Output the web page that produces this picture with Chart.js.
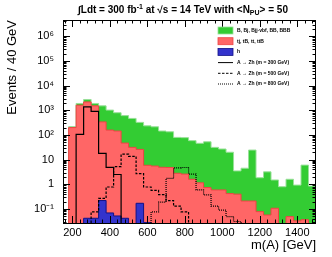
<!DOCTYPE html>
<html>
<head>
<meta charset="utf-8">
<script src="https://cdn.jsdelivr.net/npm/chart.js@4"></script>
<style>
  html, body { margin: 0; padding: 0; background: #fff; }
  canvas { display: block; }
</style>
</head>
<body>
<canvas id="massplot" width="332" height="257"></canvas>
<script>
// 40 GeV bins starting at 180 GeV (33 bins up to 1500)
var binLow = 180;
var binWidth = 40;

var bkgLight = [218, 1900, 2750, 1900, 1520, 1020, 800, 610, 470, 325, 235, 215, 145, 135, 80, 78,
                59, 46, 53, 31.5, 27, 20, 3.5, 4.5, 24.5, 1.85, 3.2, 1.5, 0.8, 1.6, 0.93, 6.0, 0.85];
var bkgTop = [200, 1620, 2190, 1520, 340, 158, 145, 47, 31.5, 26, 5.9, 5.5, 4.9, 4.8, 2.8, 2.6,
              1.6, 1.15, 0.74, 0.59, 0.59, 0.42, 0.4, 0.21, 0.21, 0.078, 0.057, 0.107, 0, 0.049, 0.033, 0.037, 0];
var bkgHiggs = [0, 0, 0.042, 0.042, 0.22, 0.069, 0.052, 0.042, 0, 0.17, 0.028];
var sig300 = [0, 105, 1380, 910, 18, 4.9, 2.5];
var sig500 = [0, 0, 0, 0.076, 0.27, 0.78, 5.2, 16.6, 13.6, 2.7, 0.78, 0.57, 0.38, 0.22, 0.13, 0.076];
var sig800 = [0, 0, 0, 0, 0, 0, 0, 0, 0, 0, 0, 0.076, 0.19, 1.74, 4.6, 4.8, 2.6, 0.59, 0.37, 0.13, 0.09, 0.049, 0.031];

var xTicks = [200, 400, 600, 800, 1000, 1200, 1400];
var yTicks = [0.1, 1, 10, 100, 1e3, 1e4, 1e5, 1e6];
var yTickLabels = ['10\u207B\u00B9', '1', '10', '10\u00B2', '10\u00B3', '10\u2074', '10\u2075', '10\u2076'];

var FONT = '"Liberation Sans", Arial, Helvetica, sans-serif';
var BELOW = 1e-4; // under the axis minimum, used to drop histogram edges to the floor

// histogram outline as step points at the bin edges
function steps(vals) {
  var first = 0, last = vals.length - 1;
  while (first < last && !(vals[first] > 0)) first++;
  while (last > first && !(vals[last] > 0)) last--;
  var pts = [{x: binLow + first * binWidth, y: BELOW}];
  for (var i = first; i <= last; i++) {
    pts.push({x: binLow + i * binWidth, y: vals[i] > 0 ? vals[i] : BELOW});
  }
  pts.push({x: binLow + (last + 1) * binWidth, y: BELOW});
  return pts;
}

var legendRows = [
  {label: 'B, Bj, Bjj-vbf, BB, BBB', fill: '#33cc33', line: '#99e099'},
  {label: 'tj, tB, tt, ttB', fill: '#ff6666', line: '#ee4444'},
  {label: 'h', fill: '#3333cc', line: '#111188'},
  {label: 'A \u2192 Zh (m = 300 GeV)', dash: []},
  {label: 'A \u2192 Zh (m = 500 GeV)', dash: [2.5, 1.5]},
  {label: 'A \u2192 Zh (m = 800 GeV)', dash: [1, 1]}
];

var rootFrame = {
  id: 'rootFrame',
  afterDatasetsDraw: function(chart) {
    var ctx = chart.ctx, a = chart.chartArea;
    var x = chart.scales.x, y = chart.scales.y;
    ctx.save();
    ctx.strokeStyle = '#000';
    ctx.lineWidth = 1;
    ctx.beginPath();
    for (var d = -2; d <= 6; d++) {
      for (var m = 1; m <= 9; m++) {
        var v = m * Math.pow(10, d);
        if (v < y.min || v > y.max) continue;
        var len = m === 1 ? 7 : 3.5;
        var py = Math.round(y.getPixelForValue(v)) + 0.5;
        ctx.moveTo(a.left, py); ctx.lineTo(a.left + len, py);
        ctx.moveTo(a.right, py); ctx.lineTo(a.right - len, py);
      }
    }
    for (var g = 160; g < 1500; g += 40) {
      var len2 = g % 200 === 0 ? 7 : 3.5;
      var px = Math.round(x.getPixelForValue(g)) + 0.5;
      ctx.moveTo(px, a.bottom); ctx.lineTo(px, a.bottom - len2);
      ctx.moveTo(px, a.top); ctx.lineTo(px, a.top + len2);
    }
    ctx.stroke();
    ctx.strokeRect(Math.round(a.left) + 0.5, Math.round(a.top) + 0.5,
                   Math.round(a.right - a.left) - 1, Math.round(a.bottom - a.top));
    ctx.restore();
  },
  afterDraw: function(chart) {
    var ctx = chart.ctx;
    ctx.save();
    ctx.fillStyle = '#000';
    ctx.textBaseline = 'alphabetic';
    // title
    var parts = [
      ['\u222BLdt = 300 fb', 0], ['-1', -1], [' at \u221As = 14 TeV with <N', 0], ['PU', 1], ['> = 50', 0]
    ];
    var w = 0;
    parts.forEach(function(p) {
      ctx.font = 'bold ' + (p[1] ? 7 : 10) + 'px ' + FONT;
      p.w = ctx.measureText(p[0]).width;
      w += p.w;
    });
    var tx = 183 - w / 2, base = 13;
    parts.forEach(function(p) {
      ctx.font = 'bold ' + (p[1] ? 7 : 10) + 'px ' + FONT;
      ctx.fillText(p[0], tx, base + (p[1] < 0 ? -4 : p[1] > 0 ? 2 : 0));
      tx += p.w;
    });
    // legend
    ctx.font = 'bold 5px ' + FONT;
    ctx.textBaseline = 'middle';
    legendRows.forEach(function(r, i) {
      var cy = 30.5 + i * 10.7;
      if (r.fill) {
        ctx.fillStyle = r.fill;
        ctx.fillRect(218, cy - 3.5, 15, 7);
        ctx.strokeStyle = r.line;
        ctx.lineWidth = 0.8;
        ctx.strokeRect(218, cy - 3.5, 15, 7);
      } else {
        ctx.strokeStyle = '#000';
        ctx.lineWidth = 1;
        ctx.setLineDash(r.dash);
        ctx.beginPath();
        ctx.moveTo(218, cy); ctx.lineTo(233, cy);
        ctx.stroke();
        ctx.setLineDash([]);
      }
      ctx.fillStyle = '#000';
      ctx.fillText(r.label, 237, cy);
    });
    ctx.restore();
  }
};

var ctx = document.getElementById('massplot').getContext('2d');
var massChart = new Chart(ctx, {
  type: 'line',
  data: {
    datasets: [
      {label: 'A -> Zh (m = 300 GeV)', data: steps(sig300), borderColor: '#000', borderWidth: 1.2, fill: false},
      {label: 'A -> Zh (m = 500 GeV)', data: steps(sig500), borderColor: '#000', borderWidth: 1.2, borderDash: [2.5, 1.5], fill: false},
      {label: 'A -> Zh (m = 800 GeV)', data: steps(sig800), borderColor: '#000', borderWidth: 1.2, borderDash: [1, 1], fill: false},
      {label: 'h', data: steps(bkgHiggs), borderColor: '#111188', borderWidth: 1, backgroundColor: '#3333cc', fill: 'start'},
      {label: 'tj, tB, tt, ttB', data: steps(bkgTop), borderColor: '#ee4444', borderWidth: 1, backgroundColor: '#ff6666', fill: 'start'},
      {label: 'B, Bj, Bjj-vbf, BB, BBB', data: steps(bkgLight), borderColor: '#99e099', borderWidth: 1, backgroundColor: '#33cc33', fill: 'start'}
    ]
  },
  options: {
    responsive: false,
    animation: false,
    devicePixelRatio: 1,
    layout: {padding: {top: 20, right: 16, left: 0, bottom: 0}},
    elements: {point: {radius: 0}, line: {tension: 0, stepped: true}},
    plugins: {legend: {display: false}, tooltip: {enabled: false}},
    scales: {
      x: {
        type: 'linear',
        min: 150,
        max: 1500,
        afterBuildTicks: function(s) { s.ticks = xTicks.map(function(v) { return {value: v}; }); },
        afterFit: function(s) { s.height = 34; },
        grid: {display: false, drawTicks: false},
        border: {display: false},
        ticks: {
          color: '#000', padding: 3, maxRotation: 0, autoSkip: false, font: {family: FONT, size: 11},
          callback: function(v) { return String(v); }
        },
        title: {display: true, text: 'm(A) [GeV]', align: 'end', color: '#000',
                font: {family: FONT, size: 13}, padding: {top: 0, bottom: 4}}
      },
      y: {
        type: 'logarithmic',
        min: 0.027,
        max: 4.6e6,
        afterBuildTicks: function(s) { s.ticks = yTicks.map(function(v) { return {value: v}; }); },
        afterFit: function(s) { s.width = 63; },
        grid: {display: false, drawTicks: false},
        border: {display: false},
        ticks: {
          color: '#000', padding: 9, autoSkip: false, font: {family: FONT, size: 11},
          callback: function(v) { var i = yTicks.indexOf(v); return i >= 0 ? yTickLabels[i] : ''; }
        },
        title: {display: true, text: 'Events / 40 GeV', align: 'end', color: '#000',
                font: {family: FONT, size: 13}, padding: {top: 5, bottom: 0}}
      }
    }
  },
  plugins: [rootFrame]
});
</script>
</body>
</html>
